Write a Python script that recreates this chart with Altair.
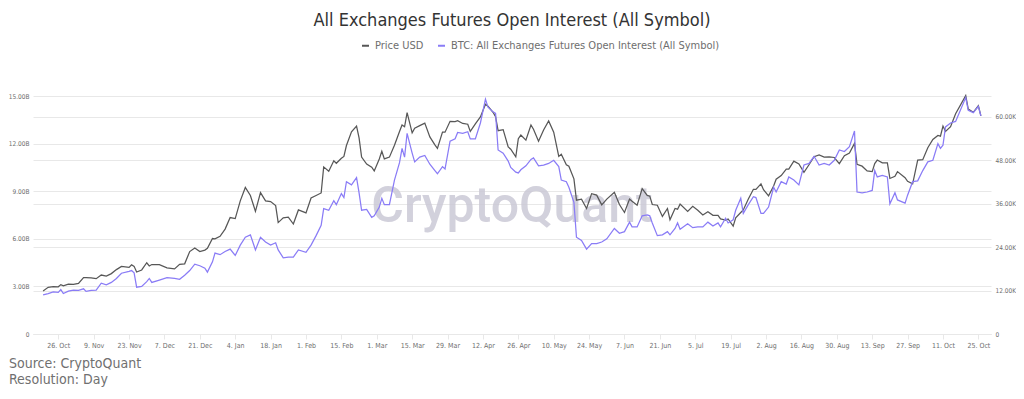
import altair as alt
import pandas as pd

# ---------------- data ----------------
dates = [
    "2020-10-20", "2020-10-22", "2020-10-24", "2020-10-26", "2020-10-27", "2020-10-28", "2020-10-30",
    "2020-11-01", "2020-11-03", "2020-11-05", "2020-11-06", "2020-11-08", "2020-11-10", "2020-11-12",
    "2020-11-14", "2020-11-16", "2020-11-18", "2020-11-20", "2020-11-23", "2020-11-24", "2020-11-25",
    "2020-11-26", "2020-11-28", "2020-11-30", "2020-12-01", "2020-12-02", "2020-12-05", "2020-12-08",
    "2020-12-11", "2020-12-13", "2020-12-15", "2020-12-17", "2020-12-19", "2020-12-21", "2020-12-23",
    "2020-12-24", "2020-12-26", "2020-12-27", "2020-12-29", "2020-12-31", "2021-01-02", "2021-01-04",
    "2021-01-06", "2021-01-08", "2021-01-10", "2021-01-12", "2021-01-14", "2021-01-16", "2021-01-18",
    "2021-01-20", "2021-01-21", "2021-01-23", "2021-01-25", "2021-01-27", "2021-01-29", "2021-02-01",
    "2021-02-03", "2021-02-05", "2021-02-07", "2021-02-08", "2021-02-10", "2021-02-12", "2021-02-13",
    "2021-02-15", "2021-02-16", "2021-02-17", "2021-02-19", "2021-02-21", "2021-02-22", "2021-02-23",
    "2021-02-25", "2021-02-27", "2021-02-28", "2021-03-02", "2021-03-03", "2021-03-04", "2021-03-06",
    "2021-03-08", "2021-03-10", "2021-03-11", "2021-03-12", "2021-03-13", "2021-03-15", "2021-03-16",
    "2021-03-18", "2021-03-20", "2021-03-22", "2021-03-24", "2021-03-25", "2021-03-27", "2021-03-28",
    "2021-03-30", "2021-04-01", "2021-04-02", "2021-04-04", "2021-04-06", "2021-04-07", "2021-04-09",
    "2021-04-11", "2021-04-13", "2021-04-14", "2021-04-16", "2021-04-17", "2021-04-18", "2021-04-20",
    "2021-04-22", "2021-04-23", "2021-04-25", "2021-04-26", "2021-04-27", "2021-04-29", "2021-05-01",
    "2021-05-02", "2021-05-04", "2021-05-06", "2021-05-08", "2021-05-10", "2021-05-12", "2021-05-13",
    "2021-05-15", "2021-05-16", "2021-05-18", "2021-05-19", "2021-05-21", "2021-05-23", "2021-05-25",
    "2021-05-27", "2021-05-29", "2021-05-31", "2021-06-03", "2021-06-05", "2021-06-07", "2021-06-09",
    "2021-06-10", "2021-06-12", "2021-06-14", "2021-06-16", "2021-06-17", "2021-06-18", "2021-06-20",
    "2021-06-22", "2021-06-24", "2021-06-25", "2021-06-27", "2021-06-28", "2021-06-29", "2021-07-02",
    "2021-07-04", "2021-07-06", "2021-07-08", "2021-07-10", "2021-07-12", "2021-07-14", "2021-07-15",
    "2021-07-17", "2021-07-18", "2021-07-20", "2021-07-21", "2021-07-23", "2021-07-24", "2021-07-26",
    "2021-07-28", "2021-07-29", "2021-07-31", "2021-08-01", "2021-08-03", "2021-08-05", "2021-08-06",
    "2021-08-08", "2021-08-10", "2021-08-11", "2021-08-13", "2021-08-15", "2021-08-17", "2021-08-19",
    "2021-08-21", "2021-08-23", "2021-08-25", "2021-08-27", "2021-08-29", "2021-08-31", "2021-09-02",
    "2021-09-04", "2021-09-06", "2021-09-07", "2021-09-09", "2021-09-11", "2021-09-13", "2021-09-14",
    "2021-09-15", "2021-09-17", "2021-09-19", "2021-09-20", "2021-09-22", "2021-09-23", "2021-09-26",
    "2021-09-27", "2021-09-29", "2021-10-01", "2021-10-03", "2021-10-05", "2021-10-07", "2021-10-09",
    "2021-10-10", "2021-10-11", "2021-10-12", "2021-10-14", "2021-10-16", "2021-10-20", "2021-10-21",
    "2021-10-23", "2021-10-25", "2021-10-26",
]

# BTC price, thousand USD (right axis)
price_k = [
    11.9, 12.9, 13.1, 13.05, 13.65, 13.3, 13.8,
    13.75, 14.0, 15.6, 15.6, 15.5, 15.3, 16.3,
    16.0, 16.7, 17.8, 18.7, 18.4, 19.15, 18.7,
    17.15, 17.7, 19.7, 18.8, 19.2, 19.15, 18.3,
    18.0, 19.25, 19.4, 22.8, 23.8, 22.8, 23.2,
    23.7, 26.4, 26.3, 27.0, 29.0, 32.2, 31.9,
    36.8, 40.5, 38.3, 33.9, 39.1, 36.8, 36.6,
    35.5, 30.8, 32.1, 32.3, 30.4, 34.3, 33.5,
    37.6, 38.3, 39.0, 46.2, 45.0, 47.9, 47.2,
    48.6, 49.1, 52.1, 55.9, 57.5, 54.2, 48.9,
    47.0, 46.1, 45.1, 48.4, 50.5, 48.4, 48.9,
    52.2, 56.0, 57.8, 57.3, 61.2, 55.6, 56.9,
    57.6, 58.3, 54.5, 52.3, 51.3, 55.8, 55.8,
    58.8, 58.7, 59.0, 58.2, 58.0, 56.0, 58.1,
    60.0, 63.5, 63.0, 61.3, 60.1, 56.2, 56.5,
    51.7, 51.1, 49.0, 54.0, 55.0, 53.6, 57.8,
    56.6, 53.3, 56.4, 58.9, 55.8, 49.1, 49.7,
    46.8, 46.4, 42.9, 37.0, 37.3, 34.7, 38.8,
    38.4, 35.7, 37.3, 39.2, 35.8, 33.6, 37.3,
    36.7, 35.6, 40.2, 38.3, 38.1, 35.8, 35.6,
    32.5, 34.7, 31.6, 34.7, 34.5, 35.9, 33.9,
    35.3, 34.2, 32.9, 33.8, 32.8, 32.8, 31.8,
    31.5, 31.8, 29.8, 32.1, 33.6, 34.3, 37.3,
    40.0, 40.0, 41.5, 39.9, 38.2, 40.9, 42.8,
    43.8, 45.6, 45.6, 47.8, 47.0, 44.7, 46.8,
    49.0, 49.5, 48.9, 49.0, 48.8, 47.1, 49.3,
    50.0, 52.7, 46.9, 46.4, 45.1, 44.9, 47.1,
    48.1, 47.3, 47.3, 43.0, 43.6, 44.9, 43.2,
    42.2, 41.5, 48.1, 48.2, 51.5, 53.8, 54.9,
    54.7, 57.5, 56.0, 57.3, 60.9, 65.9, 62.2,
    61.3, 63.1, 60.3,
]

# All exchanges futures open interest, billion USD (left axis)
open_interest_b = [
    2.46, 2.55, 2.65, 2.62, 2.80, 2.55, 2.70,
    2.77, 2.75, 2.85, 2.69, 2.75, 2.77, 3.20,
    3.10, 3.25, 3.50, 3.83, 3.95, 4.00, 3.85,
    2.95, 3.00, 3.30, 3.50, 3.25, 3.40, 3.55,
    3.50, 3.45, 3.70, 4.00, 4.40, 4.30, 4.15,
    3.90, 4.55, 5.10, 5.00, 5.20, 5.35, 4.95,
    5.60, 6.10, 6.25, 5.30, 6.10, 5.80, 5.60,
    5.75, 5.30, 4.80, 4.85, 4.85, 5.30, 5.15,
    5.60, 6.20, 6.85, 7.90, 7.80, 8.40, 8.15,
    8.85, 8.60, 9.60, 9.40, 9.85, 8.90, 7.80,
    7.85, 7.35, 7.45, 8.00, 8.55, 8.15, 8.15,
    9.70, 10.80, 11.70, 11.15, 12.65, 11.40, 10.85,
    11.15, 11.25, 10.70, 10.30, 10.10, 10.55, 10.40,
    12.15, 12.30, 12.70, 12.65, 12.75, 12.30, 12.30,
    13.30, 14.80, 14.30, 14.00, 13.90, 11.60, 11.40,
    10.90, 10.50, 10.20, 10.15, 10.35, 10.60, 11.00,
    11.10, 10.60, 10.65, 10.75, 10.95, 10.55, 9.70,
    9.60, 9.25, 8.30, 6.10, 5.90, 5.35, 5.70,
    5.70, 5.80, 6.00, 6.65, 6.35, 6.45, 7.05,
    6.75, 6.75, 7.45, 7.50, 7.45, 7.00, 6.20,
    6.25, 6.45, 6.25, 6.65, 7.00, 6.60, 6.95,
    6.70, 6.75, 6.75, 7.05, 6.80, 7.00, 6.75,
    7.30, 7.00, 7.20, 7.80, 8.55, 7.60, 8.15,
    8.65, 8.60, 7.60, 7.60, 8.00, 9.25, 8.95,
    9.60, 9.45, 9.90, 9.70, 9.40, 10.65, 10.75,
    11.20, 10.65, 10.75, 10.65, 10.95, 11.60, 11.50,
    11.80, 12.80, 8.95, 8.90, 8.95, 9.05, 10.30,
    9.90, 10.00, 9.90, 8.20, 8.90, 8.45, 8.25,
    8.75, 9.60, 9.65, 10.30, 10.85, 10.95, 12.00,
    11.70, 11.90, 13.05, 13.30, 13.40, 14.90, 14.10,
    13.95, 14.35, 13.75,
]

left_ticks_b = [0, 3, 6, 9, 12, 15]
right_ticks_k = [0, 12, 24, 36, 48, 60]
x_tick_dates = [
    (2020, 10, 26), (2020, 11, 9), (2020, 11, 23), (2020, 12, 7), (2020, 12, 21),
    (2021, 1, 4), (2021, 1, 18), (2021, 2, 1), (2021, 2, 15), (2021, 3, 1),
    (2021, 3, 15), (2021, 3, 29), (2021, 4, 12), (2021, 4, 26), (2021, 5, 10),
    (2021, 5, 24), (2021, 6, 7), (2021, 6, 21), (2021, 7, 5), (2021, 7, 19),
    (2021, 8, 2), (2021, 8, 16), (2021, 8, 30), (2021, 9, 13), (2021, 9, 27),
    (2021, 10, 11), (2021, 10, 25),
]

SERIES_PRICE = "Price USD"
SERIES_OI = "BTC: All Exchanges Futures Open Interest (All Symbol)"
TITLE = "All Exchanges Futures Open Interest (All Symbol)"
GRAY = "#575757"
PURPLE = "#8a7cf6"
FONT = "DejaVu Sans Condensed"
LABEL = "#6e6e6e"
GRID = "#e8e8e8"

price_df = pd.DataFrame({"date": dates, "value": price_k, "series": SERIES_PRICE})
oi_df = pd.DataFrame({"date": dates, "value": open_interest_b, "series": SERIES_OI})

W, H = 958, 238

x_enc = alt.X(
    "date:T",
    title=None,
    scale=alt.Scale(
        type="utc",
        domain=[alt.DateTime(year=2020, month=10, date=16, utc=True),
                alt.DateTime(year=2021, month=10, date=30, utc=True)],
    ),
    axis=alt.Axis(
        values=[alt.DateTime(year=y, month=m, date=d, utc=True) for (y, m, d) in x_tick_dates],
        labelExpr="utcFormat(datum.value, '%-d. %b')",
        labelFont=FONT, labelFontSize=7, labelColor=LABEL,
        tickColor=GRID, tickSize=5, domainColor=GRID, labelPadding=2,
        grid=False, labelOverlap=False,
    ),
)

color_enc = alt.Color(
    "series:N",
    scale=alt.Scale(domain=[SERIES_PRICE, SERIES_OI], range=[GRAY, PURPLE]),
    legend=alt.Legend(
        title=None, orient="none", direction="horizontal",
        legendX=327, legendY=-56,
        symbolType="stroke", symbolStrokeWidth=2, symbolSize=49,
        labelFont=FONT, labelFontSize=11, labelColor=LABEL, labelLimit=600,
        labelOffset=4, columnPadding=10,
    ),
)

price_line = alt.Chart(price_df).mark_line(strokeWidth=1.25).encode(
    x=x_enc,
    y=alt.Y(
        "value:Q", title=None,
        scale=alt.Scale(domain=[0, 65.8], nice=False, zero=True),
        axis=alt.Axis(
            orient="right", values=right_ticks_k,
            labelExpr="datum.value == 0 ? '0' : format(datum.value, '.2f') + 'K'",
            labelFont=FONT, labelFontSize=6.5, labelColor=LABEL,
            ticks=False, domain=False, labelPadding=4,
            grid=True, gridColor=GRID,
        ),
    ),
    color=color_enc,
)

oi_line = alt.Chart(oi_df).mark_line(strokeWidth=1.25).encode(
    x=x_enc,
    y=alt.Y(
        "value:Q", title=None,
        scale=alt.Scale(domain=[0, 15], nice=False, zero=True),
        axis=alt.Axis(
            orient="left", values=left_ticks_b,
            labelExpr="datum.value == 0 ? '0' : format(datum.value, '.2f') + 'B'",
            labelFont=FONT, labelFontSize=6.5, labelColor=LABEL,
            ticks=False, domain=False, labelPadding=4,
            grid=True, gridColor=GRID,
        ),
    ),
    color=color_enc,
)

watermark = alt.Chart(pd.DataFrame({"t": ["CryptoQuant"]})).mark_text(
    font="Roboto", fontSize=50, fontWeight=500, color="#cbc9d6", opacity=0.85,
    align="center", baseline="middle",
).encode(text="t:N", x=alt.value(W / 2), y=alt.value(111))

title_text = alt.Chart(pd.DataFrame({"t": [TITLE]})).mark_text(
    font=FONT, fontSize=18, color="#333333", align="center", baseline="middle",
).encode(text="t:N", x=alt.value(W / 2), y=alt.value(-75))

source_text = alt.Chart(pd.DataFrame({"t": ["Source: CryptoQuant\nResolution: Day"]})).mark_text(
    font=FONT, fontSize=14, color="#707070", align="left", baseline="top",
    lineBreak="\n", lineHeight=16,
).encode(text="t:N", x=alt.value(-24), y=alt.value(261))

chart = alt.layer(
    watermark, price_line, oi_line, title_text, source_text
).resolve_scale(y="independent").properties(
    width=W, height=H,
    autosize=alt.AutoSizeParams(type="none"),
    padding={"left": 25, "top": 88, "right": 25, "bottom": 57},
).configure_view(stroke=None)

chart.save("out.html", embed_options={"renderer": "svg", "actions": False})
